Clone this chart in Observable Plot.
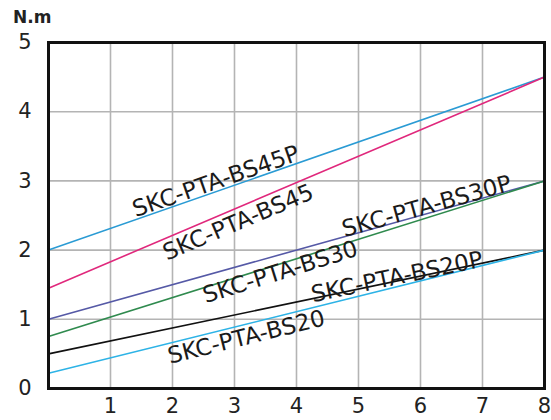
<!DOCTYPE html>
<html>
<head>
<meta charset="utf-8">
<script src="https://cdn.jsdelivr.net/npm/d3@7"></script>
<script src="https://cdn.jsdelivr.net/npm/@observablehq/plot@0.6"></script>
<style>
  html, body { margin: 0; padding: 0; background: #fff; }
  #wrap { position: relative; width: 551px; height: 420px; }
  #unit { position: absolute; left: 13px; top: 7px; font: bold 17px "DejaVu Sans", sans-serif; color: #222; }
</style>
</head>
<body>
<div id="wrap"><div id="unit">N.m</div></div>
<script>
const series = ["SKC-PTA-BS45P", "SKC-PTA-BS45", "SKC-PTA-BS30P", "SKC-PTA-BS30", "SKC-PTA-BS20P", "SKC-PTA-BS20"];
const speedRange = [0, 8];
const startTorque = [2.0, 1.45, 1.0, 0.75, 0.5, 0.22];
const endTorque = [4.5, 4.5, 3.0, 3.0, 2.0, 2.0];
const colors = ["#2a9bd4", "#e0287c", "#5559a6", "#2f8a4e", "#111111", "#2db3e6"];
const labelX = [2.70, 3.06, 6.10, 3.74, 5.62, 3.19];
const labelY = [2.99, 2.40, 2.63, 1.68, 1.61, 0.74];
const xTicks = [1, 2, 3, 4, 5, 6, 7, 8];
const yTicks = [0, 1, 2, 3, 4, 5];

const W = 551, H = 420, mL = 48, mR = 7, mT = 42, mB = 32;
const kx = (W - mL - mR) / (speedRange[1] - speedRange[0]);
const ky = (H - mT - mB) / 5;

const lineData = series.flatMap((s, i) => [
  {series: s, x: speedRange[0], y: startTorque[i]},
  {series: s, x: speedRange[1], y: endTorque[i]}
]);
const labels = series.map((s, i) => ({
  series: s, x: labelX[i], y: labelY[i],
  angle: -Math.atan(((endTorque[i] - startTorque[i]) / (speedRange[1] - speedRange[0])) * ky / kx) * 180 / Math.PI
}));

const chart = Plot.plot({
  width: W, height: H,
  marginLeft: mL, marginRight: mR, marginTop: mT, marginBottom: mB,
  style: {fontFamily: "'DejaVu Sans', sans-serif", color: "#222", background: "transparent"},
  x: {domain: [0, 8]},
  y: {domain: [0, 5]},
  color: {domain: series, range: colors},
  marks: [
    Plot.gridX(xTicks.slice(0, -1), {stroke: "#b4b4b4", strokeOpacity: 1, strokeWidth: 1.6}),
    Plot.gridY(yTicks.slice(1, -1), {stroke: "#b4b4b4", strokeOpacity: 1, strokeWidth: 1.6}),
    Plot.line(lineData, {x: "x", y: "y", z: "series", stroke: "series", strokeWidth: 1.6}),
    Plot.text(labels, {x: "x", y: "y", text: "series", rotate: "angle", fontSize: 23, fill: "#1a1a1a", textAnchor: "middle", lineAnchor: "middle", style: "letter-spacing:1.6px"}),
    Plot.frame({stroke: "#111", strokeWidth: 3}),
    Plot.axisX(xTicks, {tickSize: 0, tickPadding: 10, fontSize: 21, fill: "#222", label: null, tickFormat: "d"}),
    Plot.axisY(yTicks, {tickSize: 0, tickPadding: 17, fontSize: 21, fill: "#222", label: null, tickFormat: "d"})
  ]
});
document.getElementById("wrap").appendChild(chart);
</script>
</body>
</html>
